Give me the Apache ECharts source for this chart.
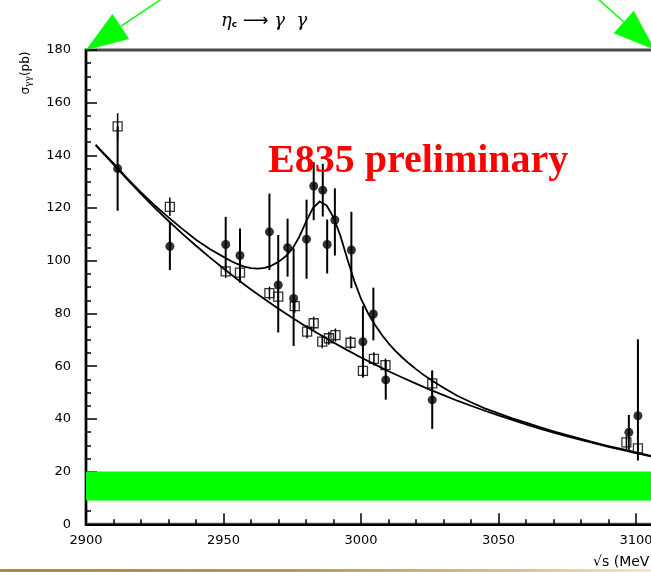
<!DOCTYPE html>
<html>
<head>
<meta charset="utf-8">
<script src="https://cdn.jsdelivr.net/npm/echarts@6/dist/echarts.min.js"></script>
<style>
  html, body { margin: 0; padding: 0; background: #fff; }
  #chart { width: 651px; height: 572px; }
</style>
</head>
<body>
<div id="chart"></div>
<script>
// eta_c -> gamma gamma: cross section vs sqrt(s), E835 scan

// Axis ranges (MeV, pb)
const xRange = [2900, 3110];
const yRange = [0, 180];
const xStep = 50;
const yStep = 20;

// Filled circles: sqrt(s), sigma, lower error, upper error
const circleX  = [2911.5, 2930.5, 2950.8, 2956.0, 2966.7, 2969.9, 2973.3, 2975.5, 2980.2, 2982.8, 2986.1, 2987.7, 2990.5, 2996.5, 3000.7, 3004.5, 3009.0, 3025.9, 3097.4, 3100.7];
const circleY  = [135.0, 105.5, 106.2, 102.0, 111.0, 90.8, 105.0, 85.7, 108.2, 128.4, 126.8, 106.2, 115.5, 104.1, 69.3, 79.8, 54.8, 47.2, 34.9, 41.2];
const circleLo = [16, 9, 10.5, 10.3, 14.5, 18, 11, 18, 15, 13, 10, 11, 13.5, 14.5, 13.5, 10, 7.5, 11, 6.6, 17];
const circleHi = [16, 9, 10.5, 10.3, 14.5, 19, 11, 19, 15, 9, 10, 9.5, 12, 14.5, 13.5, 10, 7.5, 11, 6.6, 29];

// Open squares: sqrt(s), sigma, error
const squareX   = [2911.5, 2930.5, 2950.8, 2956.0, 2966.7, 2969.9, 2975.9, 2980.4, 2982.8, 2985.9, 2988.3, 2990.7, 2996.2, 3000.7, 3004.7, 3008.9, 3025.9, 3096.5, 3100.7];
const squareY   = [151.0, 120.5, 96.0, 95.5, 87.7, 86.4, 82.8, 73.1, 76.3, 69.3, 70.6, 71.8, 68.9, 58.2, 62.8, 60.4, 53.5, 31.1, 28.8];
const squareErr = [5, 3.5, 2.5, 2.5, 2.5, 2.5, 2.5, 2.5, 2.5, 2.5, 2.5, 2.5, 2.5, 2.5, 2.5, 2.5, 5, 2.5, 2.5];

// Fit with resonance
const peakX = [2903.5, 2905, 2910, 2915, 2920, 2925, 2930, 2935, 2940, 2945, 2950, 2952.5, 2955, 2957.5, 2960, 2962.5, 2965, 2967.5, 2970, 2972.5, 2975, 2977.5, 2980, 2982.5, 2985, 2987.5, 2990, 2992.5, 2995, 2997.5, 3000, 3002.5, 3005, 3007.5, 3010, 3012.5, 3015, 3017.5, 3020, 3022.5, 3025, 3027.5, 3030, 3035, 3040, 3045, 3050, 3055, 3060, 3065, 3070, 3075, 3080, 3085, 3090, 3095, 3100, 3105, 3110];
const peakY = [144, 142.4, 137, 131.3, 126, 121, 116.5, 112.1, 108, 104.5, 101.5, 100, 98.8, 97.8, 97.2, 97.0, 97.3, 98.2, 99.6, 101.6, 104.5, 109, 114.8, 120, 122.5, 121, 116.5, 109.5, 100.8, 92.5, 85.6, 80.2, 75.8, 72.0, 68.7, 65.8, 63.3, 61, 58.9, 56.9, 55.1, 53.4, 51.8, 48.8, 46.3, 44.0, 42.1, 40.2, 38.6, 36.9, 35.3, 33.8, 32.4, 31.0, 29.7, 28.5, 27.3, 26.1, 25.0];

// Continuum-only fit
const bgX = [2903.5, 2905, 2910, 2915, 2920, 2925, 2930, 2935, 2940, 2945, 2950, 2955, 2960, 2965, 2970, 2975, 2980, 2985, 2990, 2995, 3000, 3005, 3010, 3015, 3020, 3025, 3030, 3035, 3040, 3045, 3050, 3055, 3060, 3065, 3070, 3075, 3080, 3085, 3090, 3095, 3100, 3105, 3110];
const bgY = [144, 142.2, 136.6, 130.9, 125.4, 120.1, 115.1, 110.3, 105.7, 101.3, 97.1, 93, 89.1, 85.4, 81.8, 78.4, 75.1, 72, 69, 66.1, 63.3, 60.7, 58.1, 55.7, 53.4, 51.1, 49, 46.9, 45, 43.1, 41.3, 39.6, 37.9, 36.3, 34.8, 33.4, 32, 30.7, 29.4, 28.2, 27, 25.9, 24.8];

// Shaded band
const bandLow = 9;
const bandHigh = 20;

const zip = (...cols) => cols[0].map((_, i) => cols.map(c => c[i]));

const circleData = zip(circleX, circleY, circleLo, circleHi);
const squareData = zip(squareX, squareY, squareErr, squareErr);

function errorBar(width) {
  return function (params, api) {
    const x = api.value(0), y = api.value(1);
    const p1 = api.coord([x, y - api.value(2)]);
    const p2 = api.coord([x, y + api.value(3)]);
    return {
      type: 'line',
      shape: { x1: p1[0], y1: p1[1], x2: p2[0], y2: p2[1] },
      style: { stroke: '#000', lineWidth: width }
    };
  };
}

const chart = echarts.init(document.getElementById('chart'), null, { renderer: 'canvas' });

const labelFont = { color: '#000', fontFamily: 'DejaVu Sans', fontSize: 13, formatter: v => String(v) };

chart.setOption({
  animation: false,
  backgroundColor: '#fff',
  grid: {
    left: 86, top: 50, bottom: 47.7, right: -12.5,
    show: true, borderColor: '#4a4a4a', borderWidth: 3,
    outerBoundsMode: 'none'
  },
  xAxis: {
    type: 'value',
    min: xRange[0], max: xRange[1], interval: xStep,
    axisLine: { show: true, onZero: false, lineStyle: { color: '#000', width: 2 } },
    axisTick: { show: true, inside: true, length: 11, lineStyle: { color: '#000', width: 1.5 } },
    minorTick: { show: true, splitNumber: 5, length: 5, lineStyle: { color: '#000', width: 1.5 } },
    splitLine: { show: false },
    axisLabel: Object.assign({ margin: 10, showMaxLabel: false }, labelFont)
  },
  yAxis: {
    type: 'value',
    min: yRange[0], max: yRange[1], interval: yStep,
    axisLine: { show: true, onZero: false, lineStyle: { color: '#000', width: 2 } },
    axisTick: { show: true, inside: true, length: 11, lineStyle: { color: '#000', width: 1.5 } },
    minorTick: { show: true, splitNumber: 4, length: 5, lineStyle: { color: '#000', width: 1.5 } },
    splitLine: { show: false },
    axisLabel: Object.assign({ margin: 15 }, labelFont)
  },
  series: [
    {
      type: 'line',
      data: zip(bgX, bgY),
      smooth: false,
      showSymbol: false,
      lineStyle: { color: '#000', width: 1.8, join: 'round' },
      z: 3,
      markArea: {
        silent: true,
        itemStyle: { color: '#00ff00', opacity: 1 },
        data: [[{ xAxis: xRange[0], yAxis: bandLow }, { xAxis: xRange[1], yAxis: bandHigh }]]
      }
    },
    {
      type: 'line',
      data: zip(peakX, peakY),
      smooth: false,
      showSymbol: false,
      lineStyle: { color: '#000', width: 1.8, join: 'round' },
      z: 3
    },
    {
      type: 'custom',
      renderItem: errorBar(1.5),
      data: squareData,
      encode: { x: 0, y: 1 },
      z: 4
    },
    {
      type: 'scatter',
      data: squareData.map(d => [d[0], d[1]]),
      symbol: 'rect',
      symbolSize: 9,
      itemStyle: { color: 'rgba(255,255,255,0)', borderColor: '#000', borderWidth: 1.3 },
      z: 5
    },
    {
      type: 'custom',
      renderItem: errorBar(2),
      data: circleData,
      encode: { x: 0, y: 1 },
      z: 6
    },
    {
      type: 'scatter',
      data: circleData.map(d => [d[0], d[1]]),
      symbol: 'circle',
      symbolSize: 9,
      itemStyle: { color: '#000' },
      z: 7
    }
  ]
});

// Annotations: arrows, title, labels
const corner = chart.convertToPixel({ gridIndex: 0 }, [xRange[0], yRange[1]]);
const lx = corner[0], ly = corner[1];
const rx = 655, ry = ly;

function arrow(tail, tip, len, half) {
  const dx = tip[0] - tail[0], dy = tip[1] - tail[1];
  const n = Math.hypot(dx, dy);
  const ux = dx / n, uy = dy / n;
  const bx = tip[0] - ux * len, by = tip[1] - uy * len;
  return [
    { type: 'line', shape: { x1: tail[0], y1: tail[1], x2: bx, y2: by }, style: { stroke: '#00ff00', lineWidth: 1.5 }, z: 20 },
    { type: 'polygon', shape: { points: [tip, [bx - uy * half, by + ux * half], [bx + uy * half, by - ux * half]] }, style: { fill: '#00ff00' }, z: 20 }
  ];
}

chart.setOption({
  graphic: [
    ...arrow([163, -2], [lx, ly], 42, 15),
    ...arrow([597, -2], [rx, ry], 42, 15),
    {
      type: 'text', x: 221, y: 21, z: 20,
      style: {
        text: '{g|η}{s|c}{a| ⟶ }{g|γ  γ}',
        verticalAlign: 'middle',
        rich: {
          g: { fontFamily: 'DejaVu Serif', fontStyle: 'italic', fontSize: 18, fill: '#000' },
          a: { fontFamily: 'DejaVu Sans', fontSize: 18, fill: '#000' },
          s: { fontFamily: 'DejaVu Sans', fontWeight: 'bold', fontSize: 9, fill: '#000', padding: [8, 0, 0, 0] }
        }
      }
    },
    {
      type: 'text', x: 268, y: 162, z: 20,
      style: {
        text: 'E835 preliminary',
        fontFamily: 'Liberation Serif', fontWeight: 'bold', fontSize: 40,
        fill: '#ff0000', verticalAlign: 'middle'
      }
    },
    {
      type: 'text', x: 26, y: 73, rotation: Math.PI / 2, z: 20,
      style: {
        text: '{a|σ}{s|γγ}{a|(pb)}',
        align: 'center', verticalAlign: 'middle',
        rich: {
          a: { fontFamily: 'DejaVu Sans', fontSize: 12, fill: '#000' },
          s: { fontFamily: 'DejaVu Serif', fontSize: 9, fill: '#000', padding: [5, 0, 0, 0] }
        }
      }
    },
    {
      type: 'text', x: 593, y: 562, z: 20,
      style: {
        text: '√s (MeV)',
        fontFamily: 'DejaVu Sans', fontSize: 14, fill: '#000', verticalAlign: 'middle'
      }
    },
    {
      type: 'rect', z: 20,
      shape: { x: 0, y: 569, width: 651, height: 3 },
      style: {
        fill: new echarts.graphic.LinearGradient(0, 0, 1, 0, [
          { offset: 0, color: '#a88a3c' },
          { offset: 0.45, color: '#b89a50' },
          { offset: 0.8, color: '#d8c488' },
          { offset: 1, color: '#f3e9c6' }
        ])
      }
    }
  ]
});
</script>
</body>
</html>
